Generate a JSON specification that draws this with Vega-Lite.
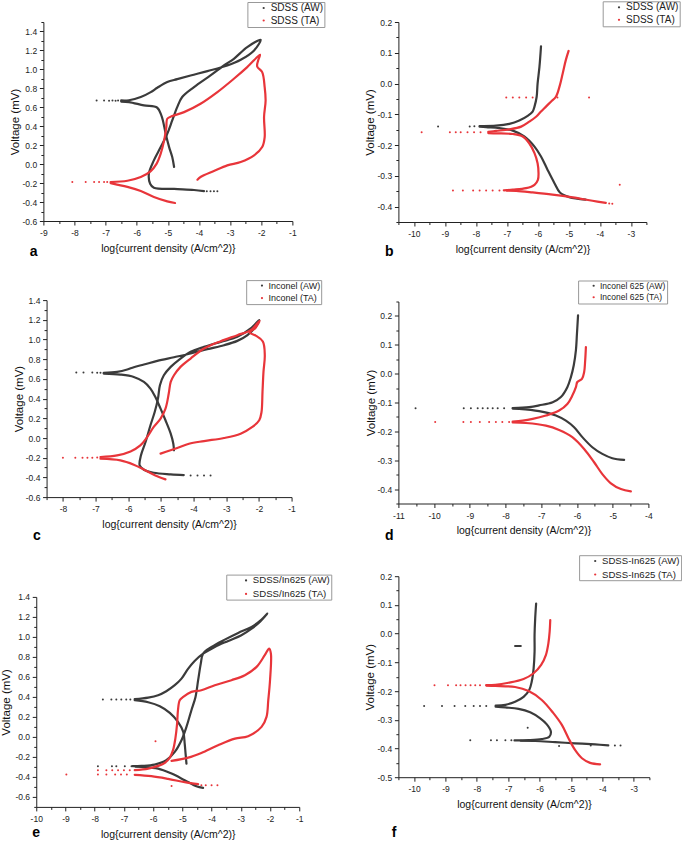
{
"$schema":"https://vega.github.io/schema/vega-lite/v6.json",
"padding":{"left":0,"top":0,"right":0,"bottom":0},
"background":"white",
"config":{"font":"Liberation Sans","view":{"stroke":null},
"locale":{"number":{"decimal":".","thousands":",","grouping":[3],"currency":["$",""],"minus":"-"}},
"axis":{"grid":false,"domainColor":"#222","tickColor":"#222","labelColor":"#222","titleColor":"#111","labelFontSize":8.5,"titleFontSize":10.5,"titleFontWeight":"normal","tickSize":4,"labelFlush":false,"labelOverlap":false},
"axisY":{"titleFontSize":11.5},
"legend":{"strokeColor":"#999","fillColor":"white","padding":1,"symbolType":"circle","symbolSize":5,"symbolOffset":10.3,"labelOffset":2,"rowPadding":2.5,"labelColor":"#222"},
"title":{"fontSize":14,"fontWeight":"bold","color":"#000","orient":"bottom","anchor":"start","frame":"group"}},
"data":{"values":[
{"p":"a","s":"AW","k":"l","g":1,"i":0,"x":-6.5,"y":0.672},{"p":"a","s":"AW","k":"l","g":1,"i":1,"x":-6.25,"y":0.674},{"p":"a","s":"AW","k":"l","g":1,"i":2,"x":-5.87,"y":0.708},{"p":"a","s":"AW","k":"l","g":1,"i":3,"x":-5.55,"y":0.76},{"p":"a","s":"AW","k":"l","g":1,"i":4,"x":-5.34,"y":0.806},{"p":"a","s":"AW","k":"l","g":1,"i":5,"x":-5.02,"y":0.866},{"p":"a","s":"AW","k":"l","g":1,"i":6,"x":-4.7,"y":0.897},{"p":"a","s":"AW","k":"l","g":1,"i":7,"x":-4.27,"y":0.936},{"p":"a","s":"AW","k":"l","g":1,"i":8,"x":-3.73,"y":0.982},{"p":"a","s":"AW","k":"l","g":1,"i":9,"x":-3.09,"y":1.041},{"p":"a","s":"AW","k":"l","g":1,"i":10,"x":-2.66,"y":1.101},{"p":"a","s":"AW","k":"l","g":1,"i":11,"x":-2.23,"y":1.2},{"p":"a","s":"AW","k":"l","g":1,"i":12,"x":-2.02,"y":1.312},{"p":"a","s":"AW","k":"l","g":1,"i":13,"x":-2.45,"y":1.235},{"p":"a","s":"AW","k":"l","g":1,"i":14,"x":-2.88,"y":1.112},{"p":"a","s":"AW","k":"l","g":1,"i":15,"x":-3.2,"y":1.041},{"p":"a","s":"AW","k":"l","g":1,"i":16,"x":-3.63,"y":0.936},{"p":"a","s":"AW","k":"l","g":1,"i":17,"x":-4.16,"y":0.813},{"p":"a","s":"AW","k":"l","g":1,"i":18,"x":-4.54,"y":0.708},{"p":"a","s":"AW","k":"l","g":1,"i":19,"x":-4.7,"y":0.602},{"p":"a","s":"AW","k":"l","g":1,"i":20,"x":-4.86,"y":0.461},{"p":"a","s":"AW","k":"l","g":1,"i":21,"x":-5.02,"y":0.321},{"p":"a","s":"AW","k":"l","g":1,"i":22,"x":-5.23,"y":0.18},{"p":"a","s":"AW","k":"l","g":1,"i":23,"x":-5.45,"y":0.04},{"p":"a","s":"AW","k":"l","g":1,"i":24,"x":-5.61,"y":-0.101},{"p":"a","s":"AW","k":"l","g":1,"i":25,"x":-5.57,"y":-0.206},{"p":"a","s":"AW","k":"l","g":1,"i":26,"x":-5.45,"y":-0.248},{"p":"a","s":"AW","k":"l","g":1,"i":27,"x":-4.8,"y":-0.262},{"p":"a","s":"AW","k":"l","g":1,"i":28,"x":-4.16,"y":-0.273},{"p":"a","s":"AW","k":"l","g":1,"i":29,"x":-3.84,"y":-0.284},
{"p":"a","s":"AW","k":"l","g":2,"i":0,"x":-6.5,"y":0.66},{"p":"a","s":"AW","k":"l","g":2,"i":1,"x":-6.25,"y":0.655},{"p":"a","s":"AW","k":"l","g":2,"i":2,"x":-5.77,"y":0.62},{"p":"a","s":"AW","k":"l","g":2,"i":3,"x":-5.34,"y":0.595},{"p":"a","s":"AW","k":"l","g":2,"i":4,"x":-5.21,"y":0.514},{"p":"a","s":"AW","k":"l","g":2,"i":5,"x":-5.16,"y":0.461},{"p":"a","s":"AW","k":"l","g":2,"i":6,"x":-5.07,"y":0.32},{"p":"a","s":"AW","k":"l","g":2,"i":7,"x":-4.96,"y":0.18},{"p":"a","s":"AW","k":"l","g":2,"i":8,"x":-4.86,"y":0.075},{"p":"a","s":"AW","k":"l","g":2,"i":9,"x":-4.8,"y":-0.03},
{"p":"a","s":"AW","k":"d","x":-7.29,"y":0.672},{"p":"a","s":"AW","k":"d","x":-7.05,"y":0.672},{"p":"a","s":"AW","k":"d","x":-6.89,"y":0.67},{"p":"a","s":"AW","k":"d","x":-6.78,"y":0.672},{"p":"a","s":"AW","k":"d","x":-6.68,"y":0.668},{"p":"a","s":"AW","k":"d","x":-6.6,"y":0.672},{"p":"a","s":"AW","k":"d","x":-3.75,"y":-0.285},{"p":"a","s":"AW","k":"d","x":-3.63,"y":-0.287},{"p":"a","s":"AW","k":"d","x":-3.52,"y":-0.287},{"p":"a","s":"AW","k":"d","x":-3.41,"y":-0.287},
{"p":"a","s":"TA","k":"l","g":1,"i":0,"x":-6.84,"y":-0.189},{"p":"a","s":"TA","k":"l","g":1,"i":1,"x":-6.3,"y":-0.175},{"p":"a","s":"TA","k":"l","g":1,"i":2,"x":-5.87,"y":-0.136},{"p":"a","s":"TA","k":"l","g":1,"i":3,"x":-5.55,"y":-0.073},{"p":"a","s":"TA","k":"l","g":1,"i":4,"x":-5.36,"y":0.005},{"p":"a","s":"TA","k":"l","g":1,"i":5,"x":-5.23,"y":0.11},{"p":"a","s":"TA","k":"l","g":1,"i":6,"x":-5.12,"y":0.251},{"p":"a","s":"TA","k":"l","g":1,"i":7,"x":-5.05,"y":0.391},{"p":"a","s":"TA","k":"l","g":1,"i":8,"x":-5.02,"y":0.479},{"p":"a","s":"TA","k":"l","g":1,"i":9,"x":-4.86,"y":0.507},{"p":"a","s":"TA","k":"l","g":1,"i":10,"x":-4.48,"y":0.549},{"p":"a","s":"TA","k":"l","g":1,"i":11,"x":-3.95,"y":0.637},{"p":"a","s":"TA","k":"l","g":1,"i":12,"x":-3.41,"y":0.76},{"p":"a","s":"TA","k":"l","g":1,"i":13,"x":-2.88,"y":0.901},{"p":"a","s":"TA","k":"l","g":1,"i":14,"x":-2.45,"y":1.024},{"p":"a","s":"TA","k":"l","g":1,"i":15,"x":-2.04,"y":1.154},{"p":"a","s":"TA","k":"l","g":1,"i":16,"x":-2.1,"y":1.094},{"p":"a","s":"TA","k":"l","g":1,"i":17,"x":-2.13,"y":1.031},{"p":"a","s":"TA","k":"l","g":1,"i":18,"x":-1.97,"y":0.971},{"p":"a","s":"TA","k":"l","g":1,"i":19,"x":-1.89,"y":0.813},{"p":"a","s":"TA","k":"l","g":1,"i":20,"x":-1.86,"y":0.672},{"p":"a","s":"TA","k":"l","g":1,"i":21,"x":-1.91,"y":0.497},{"p":"a","s":"TA","k":"l","g":1,"i":22,"x":-1.89,"y":0.286},{"p":"a","s":"TA","k":"l","g":1,"i":23,"x":-1.97,"y":0.18},{"p":"a","s":"TA","k":"l","g":1,"i":24,"x":-2.23,"y":0.092},{"p":"a","s":"TA","k":"l","g":1,"i":25,"x":-2.66,"y":0.022},{"p":"a","s":"TA","k":"l","g":1,"i":26,"x":-3.09,"y":-0.013},{"p":"a","s":"TA","k":"l","g":1,"i":27,"x":-3.52,"y":-0.073},{"p":"a","s":"TA","k":"l","g":1,"i":28,"x":-3.95,"y":-0.136},{"p":"a","s":"TA","k":"l","g":1,"i":29,"x":-4.05,"y":-0.164},
{"p":"a","s":"TA","k":"l","g":2,"i":0,"x":-6.84,"y":-0.2},{"p":"a","s":"TA","k":"l","g":2,"i":1,"x":-6.3,"y":-0.24},{"p":"a","s":"TA","k":"l","g":2,"i":2,"x":-5.87,"y":-0.284},{"p":"a","s":"TA","k":"l","g":2,"i":3,"x":-5.45,"y":-0.347},{"p":"a","s":"TA","k":"l","g":2,"i":4,"x":-5.02,"y":-0.393},{"p":"a","s":"TA","k":"l","g":2,"i":5,"x":-4.77,"y":-0.41},
{"p":"a","s":"TA","k":"d","x":-8.07,"y":-0.189},{"p":"a","s":"TA","k":"d","x":-7.64,"y":-0.189},{"p":"a","s":"TA","k":"d","x":-7.37,"y":-0.189},{"p":"a","s":"TA","k":"d","x":-7.21,"y":-0.189},{"p":"a","s":"TA","k":"d","x":-7.05,"y":-0.189},{"p":"a","s":"TA","k":"d","x":-6.95,"y":-0.188},
{"p":"b","s":"AW","k":"l","g":1,"i":0,"x":-5.9,"y":0.121},{"p":"b","s":"AW","k":"l","g":1,"i":1,"x":-5.95,"y":0.054},{"p":"b","s":"AW","k":"l","g":1,"i":2,"x":-6.01,"y":0.0},{"p":"b","s":"AW","k":"l","g":1,"i":3,"x":-6.04,"y":-0.043},{"p":"b","s":"AW","k":"l","g":1,"i":4,"x":-6.11,"y":-0.075},{"p":"b","s":"AW","k":"l","g":1,"i":5,"x":-6.17,"y":-0.091},{"p":"b","s":"AW","k":"l","g":1,"i":6,"x":-6.33,"y":-0.105},{"p":"b","s":"AW","k":"l","g":1,"i":7,"x":-6.6,"y":-0.12},{"p":"b","s":"AW","k":"l","g":1,"i":8,"x":-6.92,"y":-0.131},{"p":"b","s":"AW","k":"l","g":1,"i":9,"x":-7.35,"y":-0.137},{"p":"b","s":"AW","k":"l","g":1,"i":10,"x":-7.88,"y":-0.138},
{"p":"b","s":"AW","k":"l","g":2,"i":0,"x":-7.88,"y":-0.14},{"p":"b","s":"AW","k":"l","g":2,"i":1,"x":-7.67,"y":-0.142},{"p":"b","s":"AW","k":"l","g":2,"i":2,"x":-7.24,"y":-0.145},{"p":"b","s":"AW","k":"l","g":2,"i":3,"x":-6.81,"y":-0.153},{"p":"b","s":"AW","k":"l","g":2,"i":4,"x":-6.44,"y":-0.172},{"p":"b","s":"AW","k":"l","g":2,"i":5,"x":-6.11,"y":-0.205},{"p":"b","s":"AW","k":"l","g":2,"i":6,"x":-5.9,"y":-0.237},{"p":"b","s":"AW","k":"l","g":2,"i":7,"x":-5.69,"y":-0.28},{"p":"b","s":"AW","k":"l","g":2,"i":8,"x":-5.47,"y":-0.323},{"p":"b","s":"AW","k":"l","g":2,"i":9,"x":-5.29,"y":-0.354},{"p":"b","s":"AW","k":"l","g":2,"i":10,"x":-4.99,"y":-0.369},{"p":"b","s":"AW","k":"l","g":2,"i":11,"x":-4.46,"y":-0.377},
{"p":"b","s":"AW","k":"d","x":-9.22,"y":-0.14},{"p":"b","s":"AW","k":"d","x":-8.2,"y":-0.14},{"p":"b","s":"AW","k":"d","x":-8.05,"y":-0.139},
{"p":"b","s":"TA","k":"l","g":1,"i":0,"x":-5.01,"y":0.106},{"p":"b","s":"TA","k":"l","g":1,"i":1,"x":-5.1,"y":0.076},{"p":"b","s":"TA","k":"l","g":1,"i":2,"x":-5.2,"y":0.033},{"p":"b","s":"TA","k":"l","g":1,"i":3,"x":-5.29,"y":-0.005},{"p":"b","s":"TA","k":"l","g":1,"i":4,"x":-5.42,"y":-0.043},{"p":"b","s":"TA","k":"l","g":1,"i":5,"x":-5.58,"y":-0.059},{"p":"b","s":"TA","k":"l","g":1,"i":6,"x":-5.74,"y":-0.075},{"p":"b","s":"TA","k":"l","g":1,"i":7,"x":-5.9,"y":-0.091},{"p":"b","s":"TA","k":"l","g":1,"i":8,"x":-6.06,"y":-0.108},{"p":"b","s":"TA","k":"l","g":1,"i":9,"x":-6.28,"y":-0.124},{"p":"b","s":"TA","k":"l","g":1,"i":10,"x":-6.54,"y":-0.14},{"p":"b","s":"TA","k":"l","g":1,"i":11,"x":-6.92,"y":-0.149},{"p":"b","s":"TA","k":"l","g":1,"i":12,"x":-7.35,"y":-0.154},{"p":"b","s":"TA","k":"l","g":1,"i":13,"x":-7.6,"y":-0.157},
{"p":"b","s":"TA","k":"l","g":2,"i":0,"x":-7.6,"y":-0.161},{"p":"b","s":"TA","k":"l","g":2,"i":1,"x":-7.35,"y":-0.162},{"p":"b","s":"TA","k":"l","g":2,"i":2,"x":-6.81,"y":-0.164},{"p":"b","s":"TA","k":"l","g":2,"i":3,"x":-6.49,"y":-0.172},{"p":"b","s":"TA","k":"l","g":2,"i":4,"x":-6.28,"y":-0.194},{"p":"b","s":"TA","k":"l","g":2,"i":5,"x":-6.11,"y":-0.226},{"p":"b","s":"TA","k":"l","g":2,"i":6,"x":-6.01,"y":-0.259},{"p":"b","s":"TA","k":"l","g":2,"i":7,"x":-5.98,"y":-0.291},{"p":"b","s":"TA","k":"l","g":2,"i":8,"x":-6.0,"y":-0.313},{"p":"b","s":"TA","k":"l","g":2,"i":9,"x":-6.11,"y":-0.329},{"p":"b","s":"TA","k":"l","g":2,"i":10,"x":-6.38,"y":-0.34},{"p":"b","s":"TA","k":"l","g":2,"i":11,"x":-6.81,"y":-0.345},{"p":"b","s":"TA","k":"l","g":2,"i":12,"x":-7.1,"y":-0.347},
{"p":"b","s":"TA","k":"l","g":3,"i":0,"x":-7.0,"y":-0.348},{"p":"b","s":"TA","k":"l","g":3,"i":1,"x":-6.7,"y":-0.349},{"p":"b","s":"TA","k":"l","g":3,"i":2,"x":-6.17,"y":-0.354},{"p":"b","s":"TA","k":"l","g":3,"i":3,"x":-5.53,"y":-0.361},{"p":"b","s":"TA","k":"l","g":3,"i":4,"x":-4.88,"y":-0.37},{"p":"b","s":"TA","k":"l","g":3,"i":5,"x":-4.24,"y":-0.381},{"p":"b","s":"TA","k":"l","g":3,"i":6,"x":-3.81,"y":-0.388},
{"p":"b","s":"TA","k":"d","x":-9.75,"y":-0.158},{"p":"b","s":"TA","k":"d","x":-8.84,"y":-0.158},{"p":"b","s":"TA","k":"d","x":-8.65,"y":-0.158},{"p":"b","s":"TA","k":"d","x":-8.49,"y":-0.158},{"p":"b","s":"TA","k":"d","x":-8.27,"y":-0.158},{"p":"b","s":"TA","k":"d","x":-8.06,"y":-0.158},{"p":"b","s":"TA","k":"d","x":-7.85,"y":-0.158},{"p":"b","s":"TA","k":"d","x":-7.02,"y":-0.045},{"p":"b","s":"TA","k":"d","x":-6.81,"y":-0.045},{"p":"b","s":"TA","k":"d","x":-6.6,"y":-0.045},{"p":"b","s":"TA","k":"d","x":-6.38,"y":-0.045},{"p":"b","s":"TA","k":"d","x":-6.17,"y":-0.045},{"p":"b","s":"TA","k":"d","x":-5.37,"y":-0.045},{"p":"b","s":"TA","k":"d","x":-4.35,"y":-0.045},{"p":"b","s":"TA","k":"d","x":-8.74,"y":-0.348},{"p":"b","s":"TA","k":"d","x":-8.42,"y":-0.348},{"p":"b","s":"TA","k":"d","x":-8.09,"y":-0.348},{"p":"b","s":"TA","k":"d","x":-7.88,"y":-0.348},{"p":"b","s":"TA","k":"d","x":-7.67,"y":-0.348},{"p":"b","s":"TA","k":"d","x":-7.46,"y":-0.348},{"p":"b","s":"TA","k":"d","x":-7.24,"y":-0.348},{"p":"b","s":"TA","k":"d","x":-3.7,"y":-0.39},{"p":"b","s":"TA","k":"d","x":-3.6,"y":-0.391},{"p":"b","s":"TA","k":"d","x":-3.36,"y":-0.329},
{"p":"c","s":"AW","k":"l","g":1,"i":0,"x":-6.75,"y":0.661},{"p":"c","s":"AW","k":"l","g":1,"i":1,"x":-6.34,"y":0.671},{"p":"c","s":"AW","k":"l","g":1,"i":2,"x":-6.03,"y":0.695},{"p":"c","s":"AW","k":"l","g":1,"i":3,"x":-5.83,"y":0.719},{"p":"c","s":"AW","k":"l","g":1,"i":4,"x":-5.52,"y":0.746},{"p":"c","s":"AW","k":"l","g":1,"i":5,"x":-5.11,"y":0.783},{"p":"c","s":"AW","k":"l","g":1,"i":6,"x":-4.6,"y":0.82},{"p":"c","s":"AW","k":"l","g":1,"i":7,"x":-4.09,"y":0.858},{"p":"c","s":"AW","k":"l","g":1,"i":8,"x":-3.58,"y":0.902},{"p":"c","s":"AW","k":"l","g":1,"i":9,"x":-3.07,"y":0.942},{"p":"c","s":"AW","k":"l","g":1,"i":10,"x":-2.66,"y":0.986},{"p":"c","s":"AW","k":"l","g":1,"i":11,"x":-2.35,"y":1.044},{"p":"c","s":"AW","k":"l","g":1,"i":12,"x":-2.09,"y":1.136},{"p":"c","s":"AW","k":"l","g":1,"i":13,"x":-1.99,"y":1.197},{"p":"c","s":"AW","k":"l","g":1,"i":14,"x":-2.25,"y":1.112},{"p":"c","s":"AW","k":"l","g":1,"i":15,"x":-2.66,"y":1.027},{"p":"c","s":"AW","k":"l","g":1,"i":16,"x":-3.17,"y":0.976},{"p":"c","s":"AW","k":"l","g":1,"i":17,"x":-3.68,"y":0.925},{"p":"c","s":"AW","k":"l","g":1,"i":18,"x":-4.09,"y":0.875},{"p":"c","s":"AW","k":"l","g":1,"i":19,"x":-4.4,"y":0.807},{"p":"c","s":"AW","k":"l","g":1,"i":20,"x":-4.7,"y":0.722},{"p":"c","s":"AW","k":"l","g":1,"i":21,"x":-4.91,"y":0.637},{"p":"c","s":"AW","k":"l","g":1,"i":22,"x":-5.03,"y":0.536},{"p":"c","s":"AW","k":"l","g":1,"i":23,"x":-5.09,"y":0.4},{"p":"c","s":"AW","k":"l","g":1,"i":24,"x":-5.19,"y":0.264},{"p":"c","s":"AW","k":"l","g":1,"i":25,"x":-5.32,"y":0.129},{"p":"c","s":"AW","k":"l","g":1,"i":26,"x":-5.47,"y":-0.041},{"p":"c","s":"AW","k":"l","g":1,"i":27,"x":-5.61,"y":-0.176},{"p":"c","s":"AW","k":"l","g":1,"i":28,"x":-5.65,"y":-0.278},{"p":"c","s":"AW","k":"l","g":1,"i":29,"x":-5.52,"y":-0.322},{"p":"c","s":"AW","k":"l","g":1,"i":30,"x":-5.22,"y":-0.353},{"p":"c","s":"AW","k":"l","g":1,"i":31,"x":-4.7,"y":-0.369},{"p":"c","s":"AW","k":"l","g":1,"i":32,"x":-4.3,"y":-0.376},
{"p":"c","s":"AW","k":"l","g":2,"i":0,"x":-6.75,"y":0.654},{"p":"c","s":"AW","k":"l","g":2,"i":1,"x":-6.24,"y":0.644},{"p":"c","s":"AW","k":"l","g":2,"i":2,"x":-5.83,"y":0.62},{"p":"c","s":"AW","k":"l","g":2,"i":3,"x":-5.52,"y":0.569},{"p":"c","s":"AW","k":"l","g":2,"i":4,"x":-5.32,"y":0.502},{"p":"c","s":"AW","k":"l","g":2,"i":5,"x":-5.17,"y":0.417},{"p":"c","s":"AW","k":"l","g":2,"i":6,"x":-5.01,"y":0.298},{"p":"c","s":"AW","k":"l","g":2,"i":7,"x":-4.86,"y":0.18},{"p":"c","s":"AW","k":"l","g":2,"i":8,"x":-4.7,"y":0.044},{"p":"c","s":"AW","k":"l","g":2,"i":9,"x":-4.62,"y":-0.058},{"p":"c","s":"AW","k":"l","g":2,"i":10,"x":-4.6,"y":-0.125},
{"p":"c","s":"AW","k":"d","x":-7.59,"y":0.664},{"p":"c","s":"AW","k":"d","x":-7.37,"y":0.664},{"p":"c","s":"AW","k":"d","x":-7.1,"y":0.664},{"p":"c","s":"AW","k":"d","x":-6.95,"y":0.662},{"p":"c","s":"AW","k":"d","x":-6.85,"y":0.663},{"p":"c","s":"AW","k":"d","x":-4.09,"y":-0.38},{"p":"c","s":"AW","k":"d","x":-3.88,"y":-0.38},{"p":"c","s":"AW","k":"d","x":-3.68,"y":-0.38},{"p":"c","s":"AW","k":"d","x":-3.48,"y":-0.38},
{"p":"c","s":"TA","k":"l","g":1,"i":0,"x":-6.85,"y":-0.193},{"p":"c","s":"TA","k":"l","g":1,"i":1,"x":-6.34,"y":-0.176},{"p":"c","s":"TA","k":"l","g":1,"i":2,"x":-5.93,"y":-0.136},{"p":"c","s":"TA","k":"l","g":1,"i":3,"x":-5.63,"y":-0.075},{"p":"c","s":"TA","k":"l","g":1,"i":4,"x":-5.42,"y":0.01},{"p":"c","s":"TA","k":"l","g":1,"i":5,"x":-5.22,"y":0.112},{"p":"c","s":"TA","k":"l","g":1,"i":6,"x":-5.01,"y":0.197},{"p":"c","s":"TA","k":"l","g":1,"i":7,"x":-4.86,"y":0.298},{"p":"c","s":"TA","k":"l","g":1,"i":8,"x":-4.76,"y":0.451},{"p":"c","s":"TA","k":"l","g":1,"i":9,"x":-4.7,"y":0.569},{"p":"c","s":"TA","k":"l","g":1,"i":10,"x":-4.6,"y":0.637},{"p":"c","s":"TA","k":"l","g":1,"i":11,"x":-4.4,"y":0.722},{"p":"c","s":"TA","k":"l","g":1,"i":12,"x":-4.09,"y":0.807},{"p":"c","s":"TA","k":"l","g":1,"i":13,"x":-3.68,"y":0.908},{"p":"c","s":"TA","k":"l","g":1,"i":14,"x":-3.17,"y":0.983},{"p":"c","s":"TA","k":"l","g":1,"i":15,"x":-2.66,"y":1.044},{"p":"c","s":"TA","k":"l","g":1,"i":16,"x":-2.25,"y":1.095},{"p":"c","s":"TA","k":"l","g":1,"i":17,"x":-1.98,"y":1.19},{"p":"c","s":"TA","k":"l","g":1,"i":18,"x":-2.1,"y":1.12},{"p":"c","s":"TA","k":"l","g":1,"i":19,"x":-2.28,"y":1.07},{"p":"c","s":"TA","k":"l","g":1,"i":20,"x":-2.1,"y":1.04},{"p":"c","s":"TA","k":"l","g":1,"i":21,"x":-1.88,"y":0.98},{"p":"c","s":"TA","k":"l","g":1,"i":22,"x":-1.82,"y":0.841},{"p":"c","s":"TA","k":"l","g":1,"i":23,"x":-1.86,"y":0.671},{"p":"c","s":"TA","k":"l","g":1,"i":24,"x":-1.89,"y":0.468},{"p":"c","s":"TA","k":"l","g":1,"i":25,"x":-1.92,"y":0.264},{"p":"c","s":"TA","k":"l","g":1,"i":26,"x":-1.99,"y":0.18},{"p":"c","s":"TA","k":"l","g":1,"i":27,"x":-2.2,"y":0.112},{"p":"c","s":"TA","k":"l","g":1,"i":28,"x":-2.56,"y":0.044},{"p":"c","s":"TA","k":"l","g":1,"i":29,"x":-3.07,"y":0.0},{"p":"c","s":"TA","k":"l","g":1,"i":30,"x":-3.68,"y":-0.031},{"p":"c","s":"TA","k":"l","g":1,"i":31,"x":-4.14,"y":-0.058},{"p":"c","s":"TA","k":"l","g":1,"i":32,"x":-4.5,"y":-0.102},{"p":"c","s":"TA","k":"l","g":1,"i":33,"x":-5.01,"y":-0.159},
{"p":"c","s":"TA","k":"l","g":2,"i":0,"x":-6.85,"y":-0.21},{"p":"c","s":"TA","k":"l","g":2,"i":1,"x":-6.24,"y":-0.227},{"p":"c","s":"TA","k":"l","g":2,"i":2,"x":-5.83,"y":-0.271},{"p":"c","s":"TA","k":"l","g":2,"i":3,"x":-5.47,"y":-0.329},{"p":"c","s":"TA","k":"l","g":2,"i":4,"x":-5.17,"y":-0.38},{"p":"c","s":"TA","k":"l","g":2,"i":5,"x":-4.86,"y":-0.42},
{"p":"c","s":"TA","k":"d","x":-8.0,"y":-0.2},{"p":"c","s":"TA","k":"d","x":-7.62,"y":-0.2},{"p":"c","s":"TA","k":"d","x":-7.4,"y":-0.2},{"p":"c","s":"TA","k":"d","x":-7.25,"y":-0.2},{"p":"c","s":"TA","k":"d","x":-7.1,"y":-0.2},{"p":"c","s":"TA","k":"d","x":-6.95,"y":-0.199},
{"p":"d","s":"AW","k":"l","g":1,"i":0,"x":-5.97,"y":0.202},{"p":"d","s":"AW","k":"l","g":1,"i":1,"x":-6.0,"y":0.139},{"p":"d","s":"AW","k":"l","g":1,"i":2,"x":-6.03,"y":0.081},{"p":"d","s":"AW","k":"l","g":1,"i":3,"x":-6.09,"y":0.029},{"p":"d","s":"AW","k":"l","g":1,"i":4,"x":-6.17,"y":-0.012},{"p":"d","s":"AW","k":"l","g":1,"i":5,"x":-6.27,"y":-0.047},{"p":"d","s":"AW","k":"l","g":1,"i":6,"x":-6.45,"y":-0.081},{"p":"d","s":"AW","k":"l","g":1,"i":7,"x":-6.68,"y":-0.099},{"p":"d","s":"AW","k":"l","g":1,"i":8,"x":-7.06,"y":-0.11},{"p":"d","s":"AW","k":"l","g":1,"i":9,"x":-7.34,"y":-0.116},{"p":"d","s":"AW","k":"l","g":1,"i":10,"x":-7.8,"y":-0.119},
{"p":"d","s":"AW","k":"l","g":2,"i":0,"x":-7.8,"y":-0.121},{"p":"d","s":"AW","k":"l","g":2,"i":1,"x":-7.62,"y":-0.122},{"p":"d","s":"AW","k":"l","g":2,"i":2,"x":-7.06,"y":-0.13},{"p":"d","s":"AW","k":"l","g":2,"i":3,"x":-6.59,"y":-0.145},{"p":"d","s":"AW","k":"l","g":2,"i":4,"x":-6.31,"y":-0.163},{"p":"d","s":"AW","k":"l","g":2,"i":5,"x":-6.08,"y":-0.186},{"p":"d","s":"AW","k":"l","g":2,"i":6,"x":-5.85,"y":-0.22},{"p":"d","s":"AW","k":"l","g":2,"i":7,"x":-5.57,"y":-0.255},{"p":"d","s":"AW","k":"l","g":2,"i":8,"x":-5.29,"y":-0.278},{"p":"d","s":"AW","k":"l","g":2,"i":9,"x":-5.01,"y":-0.293},{"p":"d","s":"AW","k":"l","g":2,"i":10,"x":-4.68,"y":-0.299},
{"p":"d","s":"AW","k":"d","x":-10.52,"y":-0.12},{"p":"d","s":"AW","k":"d","x":-9.17,"y":-0.12},{"p":"d","s":"AW","k":"d","x":-8.97,"y":-0.12},{"p":"d","s":"AW","k":"d","x":-8.78,"y":-0.12},{"p":"d","s":"AW","k":"d","x":-8.64,"y":-0.12},{"p":"d","s":"AW","k":"d","x":-8.5,"y":-0.12},{"p":"d","s":"AW","k":"d","x":-8.36,"y":-0.12},{"p":"d","s":"AW","k":"d","x":-8.22,"y":-0.12},{"p":"d","s":"AW","k":"d","x":-8.04,"y":-0.12},
{"p":"d","s":"TA","k":"l","g":1,"i":0,"x":-5.75,"y":0.092},{"p":"d","s":"TA","k":"l","g":1,"i":1,"x":-5.77,"y":0.046},{"p":"d","s":"TA","k":"l","g":1,"i":2,"x":-5.8,"y":0.005},{"p":"d","s":"TA","k":"l","g":1,"i":3,"x":-5.86,"y":-0.018},{"p":"d","s":"TA","k":"l","g":1,"i":4,"x":-5.99,"y":-0.029},{"p":"d","s":"TA","k":"l","g":1,"i":5,"x":-6.03,"y":-0.047},{"p":"d","s":"TA","k":"l","g":1,"i":6,"x":-6.13,"y":-0.076},{"p":"d","s":"TA","k":"l","g":1,"i":7,"x":-6.27,"y":-0.105},{"p":"d","s":"TA","k":"l","g":1,"i":8,"x":-6.5,"y":-0.128},{"p":"d","s":"TA","k":"l","g":1,"i":9,"x":-6.87,"y":-0.145},{"p":"d","s":"TA","k":"l","g":1,"i":10,"x":-7.24,"y":-0.157},{"p":"d","s":"TA","k":"l","g":1,"i":11,"x":-7.52,"y":-0.163},{"p":"d","s":"TA","k":"l","g":1,"i":12,"x":-7.8,"y":-0.166},
{"p":"d","s":"TA","k":"l","g":2,"i":0,"x":-7.8,"y":-0.169},{"p":"d","s":"TA","k":"l","g":2,"i":1,"x":-7.43,"y":-0.171},{"p":"d","s":"TA","k":"l","g":2,"i":2,"x":-6.87,"y":-0.18},{"p":"d","s":"TA","k":"l","g":2,"i":3,"x":-6.5,"y":-0.195},{"p":"d","s":"TA","k":"l","g":2,"i":4,"x":-6.13,"y":-0.22},{"p":"d","s":"TA","k":"l","g":2,"i":5,"x":-5.8,"y":-0.261},{"p":"d","s":"TA","k":"l","g":2,"i":6,"x":-5.52,"y":-0.307},{"p":"d","s":"TA","k":"l","g":2,"i":7,"x":-5.29,"y":-0.348},{"p":"d","s":"TA","k":"l","g":2,"i":8,"x":-5.05,"y":-0.38},{"p":"d","s":"TA","k":"l","g":2,"i":9,"x":-4.77,"y":-0.4},{"p":"d","s":"TA","k":"l","g":2,"i":10,"x":-4.49,"y":-0.408},
{"p":"d","s":"TA","k":"d","x":-9.97,"y":-0.168},{"p":"d","s":"TA","k":"d","x":-9.18,"y":-0.168},{"p":"d","s":"TA","k":"d","x":-8.97,"y":-0.168},{"p":"d","s":"TA","k":"d","x":-8.72,"y":-0.168},{"p":"d","s":"TA","k":"d","x":-8.46,"y":-0.168},{"p":"d","s":"TA","k":"d","x":-8.27,"y":-0.168},{"p":"d","s":"TA","k":"d","x":-8.09,"y":-0.168},{"p":"d","s":"TA","k":"d","x":-7.9,"y":-0.168},
{"p":"e","s":"AW","k":"l","g":1,"i":0,"x":-6.63,"y":0.377},{"p":"e","s":"AW","k":"l","g":1,"i":1,"x":-6.17,"y":0.393},{"p":"e","s":"AW","k":"l","g":1,"i":2,"x":-5.83,"y":0.417},{"p":"e","s":"AW","k":"l","g":1,"i":3,"x":-5.55,"y":0.457},{"p":"e","s":"AW","k":"l","g":1,"i":4,"x":-5.26,"y":0.517},{"p":"e","s":"AW","k":"l","g":1,"i":5,"x":-5.03,"y":0.583},{"p":"e","s":"AW","k":"l","g":1,"i":6,"x":-4.8,"y":0.683},{"p":"e","s":"AW","k":"l","g":1,"i":7,"x":-4.58,"y":0.76},{"p":"e","s":"AW","k":"l","g":1,"i":8,"x":-4.29,"y":0.833},{"p":"e","s":"AW","k":"l","g":1,"i":9,"x":-3.89,"y":0.9},{"p":"e","s":"AW","k":"l","g":1,"i":10,"x":-3.43,"y":0.96},{"p":"e","s":"AW","k":"l","g":1,"i":11,"x":-2.98,"y":1.017},{"p":"e","s":"AW","k":"l","g":1,"i":12,"x":-2.63,"y":1.083},{"p":"e","s":"AW","k":"l","g":1,"i":13,"x":-2.35,"y":1.15},{"p":"e","s":"AW","k":"l","g":1,"i":14,"x":-2.09,"y":1.233},{"p":"e","s":"AW","k":"l","g":1,"i":15,"x":-2.29,"y":1.173},{"p":"e","s":"AW","k":"l","g":1,"i":16,"x":-2.63,"y":1.1},{"p":"e","s":"AW","k":"l","g":1,"i":17,"x":-3.09,"y":1.04},{"p":"e","s":"AW","k":"l","g":1,"i":18,"x":-3.55,"y":0.973},{"p":"e","s":"AW","k":"l","g":1,"i":19,"x":-4.0,"y":0.9},{"p":"e","s":"AW","k":"l","g":1,"i":20,"x":-4.29,"y":0.833},{"p":"e","s":"AW","k":"l","g":1,"i":21,"x":-4.37,"y":0.733},{"p":"e","s":"AW","k":"l","g":1,"i":22,"x":-4.46,"y":0.567},{"p":"e","s":"AW","k":"l","g":1,"i":23,"x":-4.55,"y":0.4},{"p":"e","s":"AW","k":"l","g":1,"i":24,"x":-4.69,"y":0.267},{"p":"e","s":"AW","k":"l","g":1,"i":25,"x":-4.86,"y":0.1},{"p":"e","s":"AW","k":"l","g":1,"i":26,"x":-5.03,"y":-0.033},{"p":"e","s":"AW","k":"l","g":1,"i":27,"x":-5.26,"y":-0.15},{"p":"e","s":"AW","k":"l","g":1,"i":28,"x":-5.55,"y":-0.233},{"p":"e","s":"AW","k":"l","g":1,"i":29,"x":-5.95,"y":-0.277},{"p":"e","s":"AW","k":"l","g":1,"i":30,"x":-6.4,"y":-0.29},{"p":"e","s":"AW","k":"l","g":1,"i":31,"x":-6.7,"y":-0.293},
{"p":"e","s":"AW","k":"l","g":2,"i":0,"x":-6.63,"y":0.367},{"p":"e","s":"AW","k":"l","g":2,"i":1,"x":-6.17,"y":0.347},{"p":"e","s":"AW","k":"l","g":2,"i":2,"x":-5.77,"y":0.307},{"p":"e","s":"AW","k":"l","g":2,"i":3,"x":-5.43,"y":0.24},{"p":"e","s":"AW","k":"l","g":2,"i":4,"x":-5.15,"y":0.15},{"p":"e","s":"AW","k":"l","g":2,"i":5,"x":-4.97,"y":0.05},{"p":"e","s":"AW","k":"l","g":2,"i":6,"x":-4.92,"y":-0.067},{"p":"e","s":"AW","k":"l","g":2,"i":7,"x":-4.89,"y":-0.167},{"p":"e","s":"AW","k":"l","g":2,"i":8,"x":-4.86,"y":-0.267},
{"p":"e","s":"AW","k":"l","g":3,"i":0,"x":-6.6,"y":-0.298},{"p":"e","s":"AW","k":"l","g":3,"i":1,"x":-6.4,"y":-0.3},{"p":"e","s":"AW","k":"l","g":3,"i":2,"x":-5.83,"y":-0.317},{"p":"e","s":"AW","k":"l","g":3,"i":3,"x":-5.37,"y":-0.367},{"p":"e","s":"AW","k":"l","g":3,"i":4,"x":-4.92,"y":-0.433},{"p":"e","s":"AW","k":"l","g":3,"i":5,"x":-4.52,"y":-0.493},{"p":"e","s":"AW","k":"l","g":3,"i":6,"x":-4.29,"y":-0.51},
{"p":"e","s":"AW","k":"d","x":-7.72,"y":0.373},{"p":"e","s":"AW","k":"d","x":-7.43,"y":0.373},{"p":"e","s":"AW","k":"d","x":-7.26,"y":0.373},{"p":"e","s":"AW","k":"d","x":-7.09,"y":0.373},{"p":"e","s":"AW","k":"d","x":-6.92,"y":0.373},{"p":"e","s":"AW","k":"d","x":-6.78,"y":0.373},{"p":"e","s":"AW","k":"d","x":-7.89,"y":-0.293},{"p":"e","s":"AW","k":"d","x":-7.41,"y":-0.293},{"p":"e","s":"AW","k":"d","x":-7.26,"y":-0.293},{"p":"e","s":"AW","k":"d","x":-6.97,"y":-0.293},{"p":"e","s":"AW","k":"d","x":-6.74,"y":-0.293},
{"p":"e","s":"TA","k":"l","g":1,"i":0,"x":-6.63,"y":-0.333},{"p":"e","s":"TA","k":"l","g":1,"i":1,"x":-6.17,"y":-0.317},{"p":"e","s":"TA","k":"l","g":1,"i":2,"x":-5.83,"y":-0.29},{"p":"e","s":"TA","k":"l","g":1,"i":3,"x":-5.6,"y":-0.26},{"p":"e","s":"TA","k":"l","g":1,"i":4,"x":-5.43,"y":-0.207},{"p":"e","s":"TA","k":"l","g":1,"i":5,"x":-5.32,"y":-0.133},{"p":"e","s":"TA","k":"l","g":1,"i":6,"x":-5.24,"y":-0.017},{"p":"e","s":"TA","k":"l","g":1,"i":7,"x":-5.18,"y":0.133},{"p":"e","s":"TA","k":"l","g":1,"i":8,"x":-5.15,"y":0.267},{"p":"e","s":"TA","k":"l","g":1,"i":9,"x":-5.09,"y":0.367},{"p":"e","s":"TA","k":"l","g":1,"i":10,"x":-4.97,"y":0.4},{"p":"e","s":"TA","k":"l","g":1,"i":11,"x":-4.69,"y":0.45},{"p":"e","s":"TA","k":"l","g":1,"i":12,"x":-4.35,"y":0.467},{"p":"e","s":"TA","k":"l","g":1,"i":13,"x":-3.89,"y":0.517},{"p":"e","s":"TA","k":"l","g":1,"i":14,"x":-3.32,"y":0.567},{"p":"e","s":"TA","k":"l","g":1,"i":15,"x":-2.86,"y":0.617},{"p":"e","s":"TA","k":"l","g":1,"i":16,"x":-2.46,"y":0.7},{"p":"e","s":"TA","k":"l","g":1,"i":17,"x":-2.18,"y":0.817},{"p":"e","s":"TA","k":"l","g":1,"i":18,"x":-2.03,"y":0.883},{"p":"e","s":"TA","k":"l","g":1,"i":19,"x":-1.97,"y":0.833},{"p":"e","s":"TA","k":"l","g":1,"i":20,"x":-2.0,"y":0.567},{"p":"e","s":"TA","k":"l","g":1,"i":21,"x":-2.06,"y":0.367},{"p":"e","s":"TA","k":"l","g":1,"i":22,"x":-2.12,"y":0.2},{"p":"e","s":"TA","k":"l","g":1,"i":23,"x":-2.29,"y":0.1},{"p":"e","s":"TA","k":"l","g":1,"i":24,"x":-2.75,"y":0.007},{"p":"e","s":"TA","k":"l","g":1,"i":25,"x":-3.2,"y":-0.017},{"p":"e","s":"TA","k":"l","g":1,"i":26,"x":-3.78,"y":-0.083},{"p":"e","s":"TA","k":"l","g":1,"i":27,"x":-4.35,"y":-0.16},{"p":"e","s":"TA","k":"l","g":1,"i":28,"x":-4.8,"y":-0.207},{"p":"e","s":"TA","k":"l","g":1,"i":29,"x":-5.37,"y":-0.24},
{"p":"e","s":"TA","k":"l","g":2,"i":0,"x":-6.63,"y":-0.38},{"p":"e","s":"TA","k":"l","g":2,"i":1,"x":-6.06,"y":-0.393},{"p":"e","s":"TA","k":"l","g":2,"i":2,"x":-5.49,"y":-0.42},{"p":"e","s":"TA","k":"l","g":2,"i":3,"x":-4.92,"y":-0.453},{"p":"e","s":"TA","k":"l","g":2,"i":4,"x":-4.46,"y":-0.473},
{"p":"e","s":"TA","k":"d","x":-7.89,"y":-0.333},{"p":"e","s":"TA","k":"d","x":-7.6,"y":-0.333},{"p":"e","s":"TA","k":"d","x":-7.4,"y":-0.333},{"p":"e","s":"TA","k":"d","x":-7.2,"y":-0.333},{"p":"e","s":"TA","k":"d","x":-7.0,"y":-0.333},{"p":"e","s":"TA","k":"d","x":-6.8,"y":-0.333},{"p":"e","s":"TA","k":"d","x":-8.97,"y":-0.377},{"p":"e","s":"TA","k":"d","x":-7.89,"y":-0.377},{"p":"e","s":"TA","k":"d","x":-7.6,"y":-0.377},{"p":"e","s":"TA","k":"d","x":-7.3,"y":-0.377},{"p":"e","s":"TA","k":"d","x":-7.1,"y":-0.377},{"p":"e","s":"TA","k":"d","x":-6.9,"y":-0.377},{"p":"e","s":"TA","k":"d","x":-4.35,"y":-0.483},{"p":"e","s":"TA","k":"d","x":-4.2,"y":-0.483},{"p":"e","s":"TA","k":"d","x":-4.0,"y":-0.483},{"p":"e","s":"TA","k":"d","x":-3.8,"y":-0.483},{"p":"e","s":"TA","k":"d","x":-5.92,"y":-0.043},{"p":"e","s":"TA","k":"d","x":-5.37,"y":-0.49},
{"p":"f","s":"AW","k":"l","g":1,"i":0,"x":-6.11,"y":0.105},{"p":"f","s":"AW","k":"l","g":1,"i":1,"x":-6.14,"y":0.053},{"p":"f","s":"AW","k":"l","g":1,"i":2,"x":-6.16,"y":-0.005},{"p":"f","s":"AW","k":"l","g":1,"i":3,"x":-6.16,"y":-0.063},{"p":"f","s":"AW","k":"l","g":1,"i":4,"x":-6.19,"y":-0.121},{"p":"f","s":"AW","k":"l","g":1,"i":5,"x":-6.25,"y":-0.167},{"p":"f","s":"AW","k":"l","g":1,"i":6,"x":-6.33,"y":-0.196},{"p":"f","s":"AW","k":"l","g":1,"i":7,"x":-6.51,"y":-0.22},{"p":"f","s":"AW","k":"l","g":1,"i":8,"x":-6.78,"y":-0.237},{"p":"f","s":"AW","k":"l","g":1,"i":9,"x":-7.09,"y":-0.248},{"p":"f","s":"AW","k":"l","g":1,"i":10,"x":-7.4,"y":-0.251},
{"p":"f","s":"AW","k":"l","g":2,"i":0,"x":-7.4,"y":-0.254},{"p":"f","s":"AW","k":"l","g":2,"i":1,"x":-7.09,"y":-0.257},{"p":"f","s":"AW","k":"l","g":2,"i":2,"x":-6.67,"y":-0.262},{"p":"f","s":"AW","k":"l","g":2,"i":3,"x":-6.3,"y":-0.274},{"p":"f","s":"AW","k":"l","g":2,"i":4,"x":-5.98,"y":-0.295},{"p":"f","s":"AW","k":"l","g":2,"i":5,"x":-5.77,"y":-0.316},{"p":"f","s":"AW","k":"l","g":2,"i":6,"x":-5.64,"y":-0.341},{"p":"f","s":"AW","k":"l","g":2,"i":7,"x":-5.69,"y":-0.359},{"p":"f","s":"AW","k":"l","g":2,"i":8,"x":-5.93,"y":-0.367},{"p":"f","s":"AW","k":"l","g":2,"i":9,"x":-6.35,"y":-0.371},{"p":"f","s":"AW","k":"l","g":2,"i":10,"x":-6.8,"y":-0.372},
{"p":"f","s":"AW","k":"l","g":3,"i":0,"x":-6.6,"y":-0.373},{"p":"f","s":"AW","k":"l","g":3,"i":1,"x":-6.14,"y":-0.374},{"p":"f","s":"AW","k":"l","g":3,"i":2,"x":-5.5,"y":-0.378},{"p":"f","s":"AW","k":"l","g":3,"i":3,"x":-4.87,"y":-0.382},{"p":"f","s":"AW","k":"l","g":3,"i":4,"x":-4.23,"y":-0.386},{"p":"f","s":"AW","k":"l","g":3,"i":5,"x":-3.81,"y":-0.389},
{"p":"f","s":"AW","k":"l","g":4,"i":0,"x":-6.78,"y":-0.043},{"p":"f","s":"AW","k":"l","g":4,"i":1,"x":-6.6,"y":-0.043},
{"p":"f","s":"AW","k":"d","x":-9.68,"y":-0.252},{"p":"f","s":"AW","k":"d","x":-9.11,"y":-0.252},{"p":"f","s":"AW","k":"d","x":-8.71,"y":-0.252},{"p":"f","s":"AW","k":"d","x":-8.37,"y":-0.252},{"p":"f","s":"AW","k":"d","x":-8.1,"y":-0.252},{"p":"f","s":"AW","k":"d","x":-7.9,"y":-0.252},{"p":"f","s":"AW","k":"d","x":-7.7,"y":-0.252},{"p":"f","s":"AW","k":"d","x":-8.21,"y":-0.371},{"p":"f","s":"AW","k":"d","x":-7.55,"y":-0.371},{"p":"f","s":"AW","k":"d","x":-7.36,"y":-0.371},{"p":"f","s":"AW","k":"d","x":-7.09,"y":-0.371},{"p":"f","s":"AW","k":"d","x":-6.9,"y":-0.371},{"p":"f","s":"AW","k":"d","x":-3.6,"y":-0.39},{"p":"f","s":"AW","k":"d","x":-3.42,"y":-0.39},{"p":"f","s":"AW","k":"d","x":-6.38,"y":-0.328},{"p":"f","s":"AW","k":"d","x":-5.38,"y":-0.391},{"p":"f","s":"AW","k":"d","x":-4.37,"y":-0.39},
{"p":"f","s":"TA","k":"l","g":1,"i":0,"x":-5.66,"y":0.047},{"p":"f","s":"TA","k":"l","g":1,"i":1,"x":-5.68,"y":0.006},{"p":"f","s":"TA","k":"l","g":1,"i":2,"x":-5.72,"y":-0.034},{"p":"f","s":"TA","k":"l","g":1,"i":3,"x":-5.8,"y":-0.075},{"p":"f","s":"TA","k":"l","g":1,"i":4,"x":-5.95,"y":-0.109},{"p":"f","s":"TA","k":"l","g":1,"i":5,"x":-6.19,"y":-0.138},{"p":"f","s":"TA","k":"l","g":1,"i":6,"x":-6.51,"y":-0.158},{"p":"f","s":"TA","k":"l","g":1,"i":7,"x":-6.99,"y":-0.171},{"p":"f","s":"TA","k":"l","g":1,"i":8,"x":-7.41,"y":-0.178},{"p":"f","s":"TA","k":"l","g":1,"i":9,"x":-7.7,"y":-0.179},
{"p":"f","s":"TA","k":"l","g":2,"i":0,"x":-7.7,"y":-0.181},{"p":"f","s":"TA","k":"l","g":2,"i":1,"x":-7.41,"y":-0.182},{"p":"f","s":"TA","k":"l","g":2,"i":2,"x":-6.78,"y":-0.186},{"p":"f","s":"TA","k":"l","g":2,"i":3,"x":-6.35,"y":-0.2},{"p":"f","s":"TA","k":"l","g":2,"i":4,"x":-5.93,"y":-0.231},{"p":"f","s":"TA","k":"l","g":2,"i":5,"x":-5.56,"y":-0.277},{"p":"f","s":"TA","k":"l","g":2,"i":6,"x":-5.29,"y":-0.318},{"p":"f","s":"TA","k":"l","g":2,"i":7,"x":-5.08,"y":-0.364},{"p":"f","s":"TA","k":"l","g":2,"i":8,"x":-4.87,"y":-0.405},{"p":"f","s":"TA","k":"l","g":2,"i":9,"x":-4.65,"y":-0.434},{"p":"f","s":"TA","k":"l","g":2,"i":10,"x":-4.39,"y":-0.45},{"p":"f","s":"TA","k":"l","g":2,"i":11,"x":-4.07,"y":-0.455},
{"p":"f","s":"TA","k":"d","x":-9.35,"y":-0.18},{"p":"f","s":"TA","k":"d","x":-8.92,"y":-0.18},{"p":"f","s":"TA","k":"d","x":-8.66,"y":-0.18},{"p":"f","s":"TA","k":"d","x":-8.52,"y":-0.18},{"p":"f","s":"TA","k":"d","x":-8.36,"y":-0.18},{"p":"f","s":"TA","k":"d","x":-8.2,"y":-0.18},{"p":"f","s":"TA","k":"d","x":-8.05,"y":-0.18},{"p":"f","s":"TA","k":"d","x":-7.9,"y":-0.18}
]},
"resolve":{"scale":{"color":"independent","stroke":"independent"}},
"spacing":31.4,
"hconcat":[
{"resolve":{"scale":{"color":"independent","stroke":"independent"}},"spacing":30.9,"center":true,
"vconcat":[
{"resolve":{"scale":{"color":"independent","stroke":"independent"}},"spacing":20.1,"center":true,
"vconcat":[
{"width":249,"height":199,"title":{"text":"a","offset":-8.7,"dx":-13.6},
"transform":[{"filter":"datum.p=='a'"}],
"resolve":{"axis":{"x":"independent","y":"independent"}},
"layer":[
{"transform":[{"filter":"datum.k=='l'"}],"mark":{"type":"line","strokeWidth":2.2,"interpolate":"catmull-rom","strokeCap":"round","strokeJoin":"round"},
"encoding":{"x":{"field":"x","type":"quantitative","scale":{"domain":[-9,-1],"nice":false,"zero":false},"axis":{"orient":"bottom","values":[-9,-8,-7,-6,-5,-4,-3,-2,-1],"format":"d","title":"log{current density (A/cm^2)}","labelPadding":3.5,"titlePadding":6}},
"y":{"field":"y","type":"quantitative","scale":{"domain":[-0.6,1.5],"nice":false,"zero":false},"axis":{"orient":"left","values":[-0.6,-0.4,-0.2,0,0.2,0.4,0.6,0.8,1,1.2,1.4],"format":".1f","title":"Voltage (mV)","labelPadding":2.7,"titlePadding":1.2}},
"stroke":{"field":"s","type":"nominal","scale":{"range":["#3b3b3b","#e8353a"]},"legend":null},
"detail":{"field":"g"},"order":{"field":"i","type":"quantitative"}}},
{"transform":[{"filter":"datum.k=='d'"}],"mark":{"type":"point","filled":true,"size":4,"opacity":1},
"encoding":{"x":{"field":"x","type":"quantitative","axis":{"orient":"bottom","values":[-8.5,-7.5,-6.5,-5.5,-4.5,-3.5,-2.5,-1.5],"labels":false,"title":null,"tickSize":2.5,"domain":false}},
"y":{"field":"y","type":"quantitative","axis":{"orient":"left","values":[-0.5,-0.3,-0.1,0.1,0.3,0.5,0.7,0.9,1.1,1.3,1.5],"labels":false,"title":null,"tickSize":2.5,"domain":false}},
"color":{"field":"s","type":"nominal","scale":{"domain":["AW","TA"],"range":["#3b3b3b","#e8353a"]},"legend":{"orient":"none","title":null,"legendX":204,"legendY":-20,"labelFontSize":10,"labelExpr":"'SDSS (' + datum.label + ')'"}}}}
]},
{"width":245,"height":197,"title":{"text":"c","offset":-0.8,"dx":-13.6},
"transform":[{"filter":"datum.p=='c'"}],
"resolve":{"axis":{"x":"independent","y":"independent"}},
"layer":[
{"transform":[{"filter":"datum.k=='l'"}],"mark":{"type":"line","strokeWidth":2.2,"interpolate":"catmull-rom","strokeCap":"round","strokeJoin":"round"},
"encoding":{"x":{"field":"x","type":"quantitative","scale":{"domain":[-8.5,-1],"nice":false,"zero":false},"axis":{"orient":"bottom","values":[-8,-7,-6,-5,-4,-3,-2,-1],"format":"d","title":"log{current density (A/cm^2)}","labelPadding":3.5,"titlePadding":6}},
"y":{"field":"y","type":"quantitative","scale":{"domain":[-0.6,1.4],"nice":false,"zero":false},"axis":{"orient":"left","values":[-0.6,-0.4,-0.2,0,0.2,0.4,0.6,0.8,1,1.2,1.4],"format":".1f","title":"Voltage (mV)","labelPadding":2.7,"titlePadding":1.2}},
"stroke":{"field":"s","type":"nominal","scale":{"range":["#3b3b3b","#e8353a"]},"legend":null},
"detail":{"field":"g"},"order":{"field":"i","type":"quantitative"}}},
{"transform":[{"filter":"datum.k=='d'"}],"mark":{"type":"point","filled":true,"size":4,"opacity":1},
"encoding":{"x":{"field":"x","type":"quantitative","axis":{"orient":"bottom","values":[-8.5,-7.5,-6.5,-5.5,-4.5,-3.5,-2.5,-1.5],"labels":false,"title":null,"tickSize":2.5,"domain":false}},
"y":{"field":"y","type":"quantitative","axis":{"orient":"left","values":[-0.5,-0.3,-0.1,0.1,0.3,0.5,0.7,0.9,1.1,1.3],"labels":false,"title":null,"tickSize":2.5,"domain":false}},
"color":{"field":"s","type":"nominal","scale":{"domain":["AW","TA"],"range":["#3b3b3b","#e8353a"]},"legend":{"orient":"none","title":null,"legendX":199.6,"legendY":-20,"labelFontSize":9,"labelExpr":"'Inconel (' + datum.label + ')'"}}}}
]}
]},
{"width":263,"height":210,"title":{"text":"e","offset":-14.6,"dx":-3.9},
"transform":[{"filter":"datum.p=='e'"}],
"resolve":{"axis":{"x":"independent","y":"independent"}},
"layer":[
{"transform":[{"filter":"datum.k=='l'"}],"mark":{"type":"line","strokeWidth":2.2,"interpolate":"catmull-rom","strokeCap":"round","strokeJoin":"round"},
"encoding":{"x":{"field":"x","type":"quantitative","scale":{"domain":[-10,-1],"nice":false,"zero":false},"axis":{"orient":"bottom","values":[-10,-9,-8,-7,-6,-5,-4,-3,-2,-1],"format":"d","title":"log{current density (A/cm^2)}","labelPadding":3.5,"titlePadding":6.7}},
"y":{"field":"y","type":"quantitative","scale":{"domain":[-0.7,1.4],"nice":false,"zero":false},"axis":{"orient":"left","values":[-0.6,-0.4,-0.2,0,0.2,0.4,0.6,0.8,1,1.2,1.4],"format":".1f","title":"Voltage (mV)","labelPadding":2.7,"titlePadding":3.5}},
"stroke":{"field":"s","type":"nominal","scale":{"range":["#3b3b3b","#e8353a"]},"legend":null},
"detail":{"field":"g"},"order":{"field":"i","type":"quantitative"}}},
{"transform":[{"filter":"datum.k=='d'"}],"mark":{"type":"point","filled":true,"size":4,"opacity":1},
"encoding":{"x":{"field":"x","type":"quantitative","axis":{"orient":"bottom","values":[-9.5,-8.5,-7.5,-6.5,-5.5,-4.5,-3.5,-2.5,-1.5],"labels":false,"title":null,"tickSize":2.5,"domain":false}},
"y":{"field":"y","type":"quantitative","axis":{"orient":"left","values":[-0.7,-0.5,-0.3,-0.1,0.1,0.3,0.5,0.7,0.9,1.1,1.3],"labels":false,"title":null,"tickSize":2.5,"domain":false}},
"color":{"field":"s","type":"nominal","scale":{"domain":["AW","TA"],"range":["#3b3b3b","#e8353a"]},"legend":{"orient":"none","title":null,"legendX":190,"legendY":-22.3,"labelFontSize":9.6,"symbolOffset":14,"labelExpr":"'SDSS/In625 (' + datum.label + ')'"}}}}
]}
]},
{"resolve":{"scale":{"color":"independent","stroke":"independent"}},"spacing":11.2,
"vconcat":[
{"resolve":{"scale":{"color":"independent","stroke":"independent"}},"spacing":19.5,
"vconcat":[
{"width":248,"height":200,"title":{"text":"b","offset":-9.3,"dx":-13.3},
"transform":[{"filter":"datum.p=='b'"}],
"resolve":{"axis":{"x":"independent","y":"independent"}},
"layer":[
{"transform":[{"filter":"datum.k=='l'"}],"mark":{"type":"line","strokeWidth":2.2,"interpolate":"catmull-rom","strokeCap":"round","strokeJoin":"round"},
"encoding":{"x":{"field":"x","type":"quantitative","scale":{"domain":[-10.5,-2.5],"nice":false,"zero":false},"axis":{"orient":"bottom","values":[-10,-9,-8,-7,-6,-5,-4,-3],"format":"d","title":"log{current density (A/cm^2)}","labelPadding":3.5,"titlePadding":6}},
"y":{"field":"y","type":"quantitative","scale":{"domain":[-0.45,0.2],"nice":false,"zero":false},"axis":{"orient":"left","values":[-0.4,-0.3,-0.2,-0.1,0,0.1,0.2],"format":".1f","title":"Voltage (mV)","labelPadding":2.7,"titlePadding":1.5}},
"stroke":{"field":"s","type":"nominal","scale":{"range":["#3b3b3b","#e8353a"]},"legend":null},
"detail":{"field":"g"},"order":{"field":"i","type":"quantitative"}}},
{"transform":[{"filter":"datum.k=='d'"}],"mark":{"type":"point","filled":true,"size":4,"opacity":1},
"encoding":{"x":{"field":"x","type":"quantitative","axis":{"orient":"bottom","values":[-10.5,-9.5,-8.5,-7.5,-6.5,-5.5,-4.5,-3.5,-2.5],"labels":false,"title":null,"tickSize":2.5,"domain":false}},
"y":{"field":"y","type":"quantitative","axis":{"orient":"left","values":[-0.45,-0.35,-0.25,-0.15,-0.05,0.05,0.15],"labels":false,"title":null,"tickSize":2.5,"domain":false}},
"color":{"field":"s","type":"nominal","scale":{"domain":["AW","TA"],"range":["#3b3b3b","#e8353a"]},"legend":{"orient":"none","title":null,"legendX":204.3,"legendY":-20.7,"labelFontSize":10,"labelExpr":"'SDSS (' + datum.label + ')'"}}}}
]},
{"width":250,"height":202,"title":{"text":"d","offset":-7,"dx":-13.3},
"transform":[{"filter":"datum.p=='d'"}],
"resolve":{"axis":{"x":"independent","y":"independent"}},
"layer":[
{"transform":[{"filter":"datum.k=='l'"}],"mark":{"type":"line","strokeWidth":2.2,"interpolate":"catmull-rom","strokeCap":"round","strokeJoin":"round"},
"encoding":{"x":{"field":"x","type":"quantitative","scale":{"domain":[-11,-4],"nice":false,"zero":false},"axis":{"orient":"bottom","values":[-11,-10,-9,-8,-7,-6,-5,-4],"format":"d","title":"log{current density (A/cm^2)}","labelPadding":3.5,"titlePadding":6}},
"y":{"field":"y","type":"quantitative","scale":{"domain":[-0.45,0.25],"nice":false,"zero":false},"axis":{"orient":"left","values":[-0.4,-0.3,-0.2,-0.1,0,0.1,0.2],"format":".1f","title":"Voltage (mV)","labelPadding":2.7,"titlePadding":0.5}},
"stroke":{"field":"s","type":"nominal","scale":{"range":["#3b3b3b","#e8353a"]},"legend":null},
"detail":{"field":"g"},"order":{"field":"i","type":"quantitative"}}},
{"transform":[{"filter":"datum.k=='d'"}],"mark":{"type":"point","filled":true,"size":4,"opacity":1},
"encoding":{"x":{"field":"x","type":"quantitative","axis":{"orient":"bottom","values":[-10.5,-9.5,-8.5,-7.5,-6.5,-5.5,-4.5],"labels":false,"title":null,"tickSize":2.5,"domain":false}},
"y":{"field":"y","type":"quantitative","axis":{"orient":"left","values":[-0.45,-0.35,-0.25,-0.15,-0.05,0.05,0.15,0.25],"labels":false,"title":null,"tickSize":2.5,"domain":false}},
"color":{"field":"s","type":"nominal","scale":{"domain":["AW","TA"],"range":["#3b3b3b","#e8353a"]},"legend":{"orient":"none","title":null,"legendX":179.7,"legendY":-21,"labelFontSize":8.5,"labelExpr":"'Inconel 625 (' + datum.label + ')'"}}}}
]}
]},
{"width":251,"height":201,"title":{"text":"f","offset":16.4,"dx":-6.6},
"transform":[{"filter":"datum.p=='f'"}],
"resolve":{"axis":{"x":"independent","y":"independent"}},
"layer":[
{"transform":[{"filter":"datum.k=='l'"}],"mark":{"type":"line","strokeWidth":2.2,"interpolate":"catmull-rom","strokeCap":"round","strokeJoin":"round"},
"encoding":{"x":{"field":"x","type":"quantitative","scale":{"domain":[-10.5,-2.5],"nice":false,"zero":false},"axis":{"orient":"bottom","values":[-10,-9,-8,-7,-6,-5,-4,-3],"format":"d","title":"log{current density (A/cm^2)}","labelPadding":3.5,"titlePadding":6}},
"y":{"field":"y","type":"quantitative","scale":{"domain":[-0.5,0.2],"nice":false,"zero":false},"axis":{"orient":"left","values":[-0.5,-0.4,-0.3,-0.2,-0.1,0,0.1,0.2],"format":".1f","title":"Voltage (mV)","labelPadding":2.7,"titlePadding":1.8}},
"stroke":{"field":"s","type":"nominal","scale":{"range":["#3b3b3b","#e8353a"]},"legend":null},
"detail":{"field":"g"},"order":{"field":"i","type":"quantitative"}}},
{"transform":[{"filter":"datum.k=='d'"}],"mark":{"type":"point","filled":true,"size":4,"opacity":1},
"encoding":{"x":{"field":"x","type":"quantitative","axis":{"orient":"bottom","values":[-10.5,-9.5,-8.5,-7.5,-6.5,-5.5,-4.5,-3.5,-2.5],"labels":false,"title":null,"tickSize":2.5,"domain":false}},
"y":{"field":"y","type":"quantitative","axis":{"orient":"left","values":[-0.45,-0.35,-0.25,-0.15,-0.05,0.05,0.15],"labels":false,"title":null,"tickSize":2.5,"domain":false}},
"color":{"field":"s","type":"nominal","scale":{"domain":["AW","TA"],"range":["#3b3b3b","#e8353a"]},"legend":{"orient":"none","title":null,"legendX":180.7,"legendY":-21,"labelFontSize":9.6,"labelExpr":"'SDSS-In625 (' + datum.label + ')'"}}}}
]}
]}
]
}
